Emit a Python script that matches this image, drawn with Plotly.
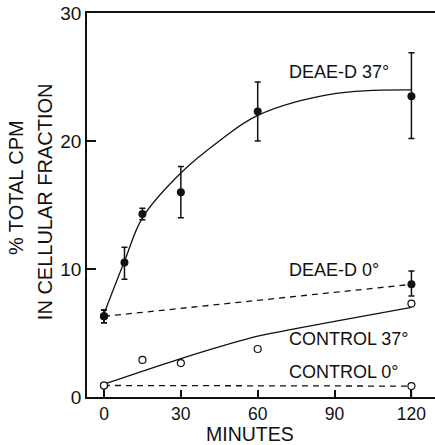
import plotly.graph_objects as go

# Uptake time course (minutes) and % of total CPM found in the cellular fraction
deae37_t = [0, 8, 15, 30, 60, 120]
deae37_y = [6.3, 10.5, 14.3, 16.0, 22.3, 23.5]
deae37_err_plus = [0.5, 1.2, 0.45, 2.0, 2.3, 3.4]
deae37_err_minus = [0.5, 1.3, 0.45, 2.0, 2.3, 3.3]

# Smooth curve drawn through the DEAE-D 37° data
deae37_curve_t = [0, 8, 15, 30, 45, 60, 90, 120]
deae37_curve_y = [6.5, 10.6, 14.0, 17.5, 20.0, 22.0, 23.7, 24.0]

deae0_t = [0, 120]
deae0_y = [6.3, 8.8]
deae0_err_plus = [0.5, 1.05]
deae0_err_minus = [0.5, 0.9]

control37_t = [0, 15, 30, 60, 120]
control37_y = [0.9, 2.9, 2.65, 3.75, 7.3]
control37_curve_t = [0, 30, 60, 90, 120]
control37_curve_y = [1.0, 3.0, 4.75, 5.9, 7.0]

control0_t = [0, 120]
control0_y = [0.9, 0.85]
control0_err_minus = [0.9, 0.85]

series_labels = ["DEAE-D 37°", "DEAE-D 0°", "CONTROL 37°", "CONTROL 0°"]
label_y = [25.4, 9.9, 4.55, 1.95]
label_x = 71.4

x_ticks = [0, 30, 60, 90, 120]
y_ticks = [0, 10, 20, 30]

FONT = "Liberation Sans, Arial, sans-serif"
INK = "#111111"

fig = go.Figure()

# DEAE-D 37°: fitted solid curve
fig.add_trace(go.Scatter(
    x=deae37_curve_t, y=deae37_curve_y, mode="lines",
    line=dict(color=INK, width=1.3, shape="spline", smoothing=1.0),
    hoverinfo="skip"))

# DEAE-D 0°: dashed line
fig.add_trace(go.Scatter(
    x=deae0_t, y=deae0_y, mode="lines+markers",
    line=dict(color=INK, width=1.3, dash="6px,5px"),
    marker=dict(symbol="circle", size=8, color=INK),
    error_y=dict(type="data", symmetric=False, array=deae0_err_plus,
                 arrayminus=deae0_err_minus, color=INK, thickness=1.5, width=3)))

# DEAE-D 37° measurements
fig.add_trace(go.Scatter(
    x=deae37_t, y=deae37_y, mode="markers",
    marker=dict(symbol="circle", size=8, color=INK),
    error_y=dict(type="data", symmetric=False, array=deae37_err_plus,
                 arrayminus=deae37_err_minus, color=INK, thickness=1.5, width=3)))

# Control 37°: solid curve
fig.add_trace(go.Scatter(
    x=control37_curve_t, y=control37_curve_y, mode="lines",
    line=dict(color=INK, width=1.3, shape="spline", smoothing=0.6),
    hoverinfo="skip"))

# Control 0°: dashed line with stems down to the axis
fig.add_trace(go.Scatter(
    x=control0_t, y=control0_y, mode="lines+markers",
    line=dict(color=INK, width=1.3, dash="6px,5px"),
    marker=dict(symbol="circle", size=7, color="white",
                line=dict(color=INK, width=1.2)),
    error_y=dict(type="data", symmetric=False, array=[0, 0],
                 arrayminus=control0_err_minus, color=INK, thickness=1.5, width=0)))

# Control 37° measurements
fig.add_trace(go.Scatter(
    x=control37_t, y=control37_y, mode="markers",
    marker=dict(symbol="circle", size=7, color="white",
                line=dict(color=INK, width=1.2))))

annotations = []
for text, yv in zip(series_labels, label_y):
    annotations.append(dict(
        x=label_x, y=yv, xref="x", yref="y", text=text, showarrow=False,
        xanchor="left", yanchor="middle",
        font=dict(family=FONT, size=18, color=INK)))

annotations.append(dict(
    x=0.468, y=-0.0963, xref="paper", yref="paper", text="MINUTES",
    showarrow=False, xanchor="center", yanchor="middle",
    font=dict(family=FONT, size=19.5, color=INK)))
annotations.append(dict(
    x=-0.204, y=0.544, xref="paper", yref="paper", text="% TOTAL CPM",
    showarrow=False, xanchor="center", yanchor="middle", textangle=-90,
    font=dict(family=FONT, size=20, color=INK)))
annotations.append(dict(
    x=-0.1207, y=0.51, xref="paper", yref="paper", text="IN CELLULAR FRACTION",
    showarrow=False, xanchor="center", yanchor="middle", textangle=-90,
    font=dict(family=FONT, size=20, color=INK)))

fig.update_layout(
    width=435, height=445,
    margin=dict(l=87, r=0, t=13, b=48, pad=0),
    paper_bgcolor="white", plot_bgcolor="white",
    showlegend=False,
    annotations=annotations,
    xaxis=dict(
        range=[-6.63, 129.2], tickvals=x_ticks, ticktext=[str(v) for v in x_ticks],
        showgrid=False, zeroline=False,
        showline=True, linecolor=INK, linewidth=1.8, mirror=True,
        ticks="inside", ticklen=7, tickwidth=1.5, tickcolor=INK,
        tickfont=dict(family=FONT, size=17.5, color=INK)),
    yaxis=dict(
        range=[0, 30], tickvals=y_ticks, ticktext=[str(v) for v in y_ticks],
        showgrid=False, zeroline=False,
        showline=True, linecolor=INK, linewidth=1.8, mirror=False,
        ticks="inside", ticklen=9, tickwidth=1.5, tickcolor=INK,
        tickfont=dict(family=FONT, size=19, color=INK)),
)

fig.write_html("out.html")
